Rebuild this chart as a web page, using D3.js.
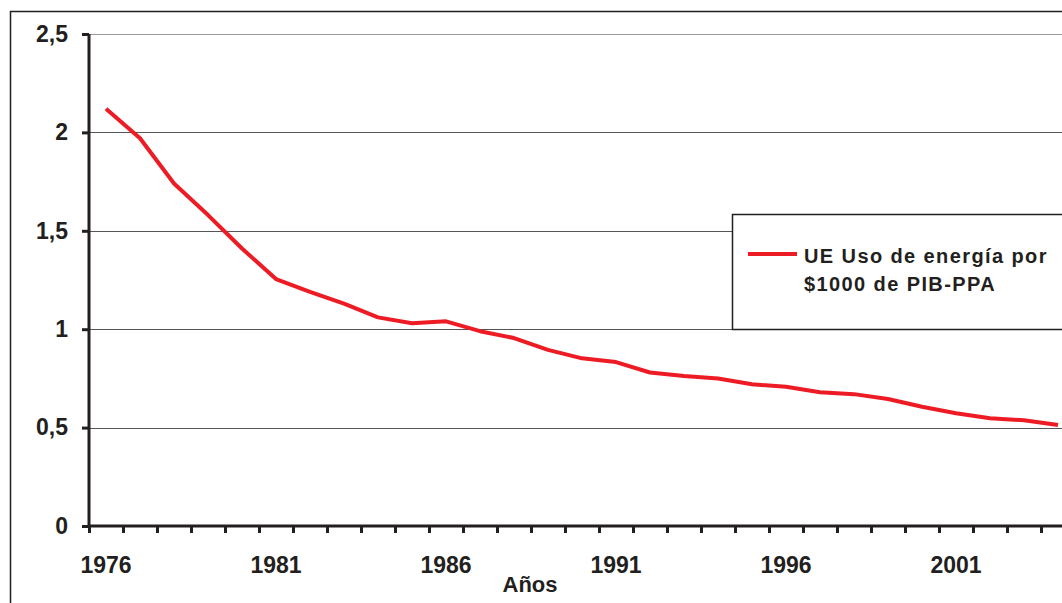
<!DOCTYPE html>
<html>
<head>
<meta charset="utf-8">
<script src="https://cdn.jsdelivr.net/npm/d3@7"></script>
<style>
  body { margin: 0; background: #fff; }
  text { font-family: "Liberation Sans", Arial, sans-serif; font-weight: bold; fill: #231f20; }
</style>
</head>
<body>
<div id="chart"></div>
<script>
// data
var years = d3.range(1976, 2005);
var energyUse = [2.12, 1.97, 1.74, 1.58, 1.41, 1.255, 1.19, 1.13, 1.06, 1.03,
                 1.04, 0.99, 0.955, 0.895, 0.852, 0.833, 0.78, 0.762, 0.749, 0.72,
                 0.708, 0.68, 0.67, 0.645, 0.606, 0.573, 0.548, 0.537, 0.513];
var yTicks = [0, 0.5, 1, 1.5, 2, 2.5];
var xLabels = [1976, 1981, 1986, 1991, 1996, 2001];
var legendLines = ["UE Uso de energía por", "$1000 de PIB-PPA"];

var svgWidth = 1062;
var svgHeight = 603;

var svg = d3.select("#chart")
    .append("svg")
    .attr("width", svgWidth)
    .attr("height", svgHeight);

// outer frame (cropped on the right and bottom)
svg.append("path")
    .attr("d", "M10.5,620 V11.5 H1080")
    .attr("fill", "none")
    .attr("stroke", "#231f20")
    .attr("stroke-width", 1.5);

var plotLeft = 89, plotTop = 34, plotBottom = 526, band = 34;

var x = d3.scaleBand()
    .domain(years)
    .range([plotLeft, plotLeft + band * years.length]);

var xEdge = d3.scaleLinear()
    .domain([0, years.length])
    .range([plotLeft, plotLeft + band * years.length]);

var y = d3.scaleLinear()
    .domain([0, 2.5])
    .range([plotBottom, plotTop]);

// gridlines
svg.append("g").selectAll("line")
    .data(yTicks.filter(d => d > 0))
    .enter()
    .append("line")
    .attr("x1", plotLeft)
    .attr("x2", svgWidth)
    .attr("y1", d => Math.round(y(d)) + 0.5)
    .attr("y2", d => Math.round(y(d)) + 0.5)
    .attr("stroke", d => d == 2.5 ? "#999" : "#555")
    .attr("stroke-width", 1.2);

// y axis
var leftAxis = d3.axisLeft(y)
    .tickValues(yTicks)
    .tickSize(7)
    .tickPadding(14)
    .tickFormat(d => String(d).replace(".", ","));

var yAxis = svg.append("g")
    .attr("transform", `translate(${plotLeft}, 0)`)
    .call(leftAxis);
yAxis.select(".domain").attr("stroke", "#231f20").attr("stroke-width", 3)
    .attr("d", `M0,${plotTop}V${plotBottom}`);
yAxis.selectAll(".tick line").attr("stroke", "#231f20").attr("stroke-width", 3);
yAxis.selectAll(".tick text")
    .style("font-size", "23px")
    .style("font-family", '"Liberation Sans", Arial, sans-serif')
    .style("font-weight", "bold")
    .attr("fill", "#231f20");

// x axis: ticks between categories
var edgeAxis = d3.axisBottom(xEdge)
    .tickValues(d3.range(0, years.length + 1))
    .tickSize(7)
    .tickFormat("");

var xAxis = svg.append("g")
    .attr("transform", `translate(0, ${plotBottom})`)
    .call(edgeAxis);
xAxis.select(".domain").attr("stroke", "#231f20").attr("stroke-width", 3)
    .attr("d", `M${plotLeft},0H${svgWidth + 20}`);
xAxis.selectAll(".tick line").attr("stroke", "#231f20").attr("stroke-width", 3);

// x labels centered in categories
svg.append("g").selectAll("text")
    .data(xLabels)
    .enter()
    .append("text")
    .attr("x", d => x(d) + x.bandwidth() / 2)
    .attr("y", 573)
    .attr("text-anchor", "middle")
    .style("font-size", "23px")
    .text(d => d);

svg.append("text")
    .attr("x", 530)
    .attr("y", 592)
    .attr("text-anchor", "middle")
    .style("font-size", "22px")
    .text("Años");

// the line
var line = d3.line()
    .x((d, i) => x(years[i]) + x.bandwidth() / 2)
    .y(d => y(d));

svg.append("path")
    .datum(energyUse)
    .attr("d", line)
    .attr("fill", "none")
    .attr("stroke", "#ed1c24")
    .attr("stroke-width", 4)
    .attr("stroke-linejoin", "round");

// legend
var legend = svg.append("g");
legend.append("rect")
    .attr("x", 732.5)
    .attr("y", 214.5)
    .attr("width", 400)
    .attr("height", 115)
    .attr("fill", "#fff")
    .attr("stroke", "#231f20")
    .attr("stroke-width", 1.5);
legend.append("line")
    .attr("x1", 748)
    .attr("x2", 797)
    .attr("y1", 254)
    .attr("y2", 254)
    .attr("stroke", "#ed1c24")
    .attr("stroke-width", 4);
legend.selectAll(".leg")
    .data(legendLines)
    .enter()
    .append("text")
    .attr("class", "leg")
    .attr("x", 804)
    .attr("y", (d, i) => 263 + i * 28)
    .style("font-size", "20px")
    .style("letter-spacing", "1.4px")
    .text(d => d);
</script>
</body>
</html>
